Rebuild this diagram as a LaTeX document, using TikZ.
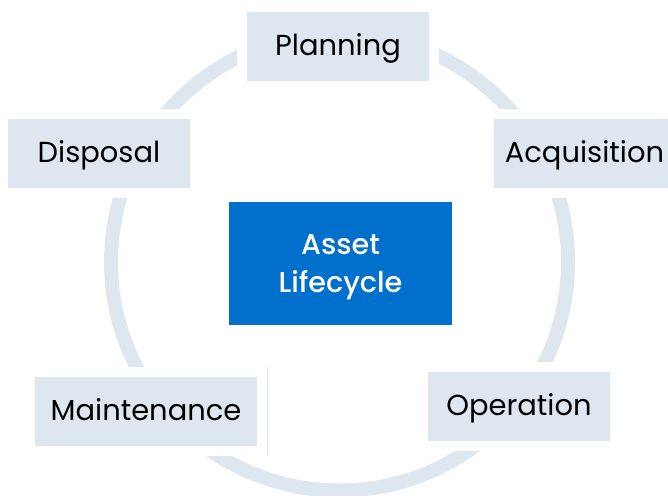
\documentclass[tikz,border=0pt]{standalone}
\usepackage{fontspec}
\setmainfont{Poppins}
\newfontfamily\corefont{Poppins Medium}
\usepackage{tikz}
\usetikzlibrary{positioning}
\usepackage{xcolor}
\definecolor{ringblue}{RGB}{222,231,240}
\definecolor{coreblue}{RGB}{0,112,204}

\begin{document}
\begin{tikzpicture}[x=0.75pt,y=0.75pt,yscale=-1,xscale=1,
    stagebox/.style={fill=ringblue, inner sep=0pt, minimum width=136.5pt, minimum height=51.75pt,
        font=\fontsize{21.7}{26}\selectfont, text=black, text height=16pt, text depth=2pt,
        preaction={draw=white, line width=15pt}},
    corebox/.style={fill=coreblue, inner sep=0pt, minimum width=167pt, minimum height=92pt,
        font=\corefont\fontsize{21.5}{28.5}\selectfont, text=white, align=center, text depth=0pt}]
        \useasboundingbox (0,0) rectangle (668,496);
        %Ring
        \draw [ringblue, line width=10.5pt] (339.5,262) circle [radius=228.5];
        %Thin line
        \draw [ringblue, line width=0.75pt] (267,367) -- (267,456);
        % Center Node
        \node [corebox] (core) at (340.5,263.5) {Asset\\Lifecycle};
        % Stage Nodes
        \node [stagebox] (plan) at (338,46.5) {Planning};
        \node [stagebox] (acq) at (584.5,153.5) {Acquisition};
        \node [stagebox] (oper) at (519,406.5) {Operation};
        \node [stagebox, minimum width=166.5pt] (maint) at (146,411.5) {Maintenance};
        \node [stagebox] (disp) at (99,153.5) {Disposal};
\end{tikzpicture}
\end{document}
